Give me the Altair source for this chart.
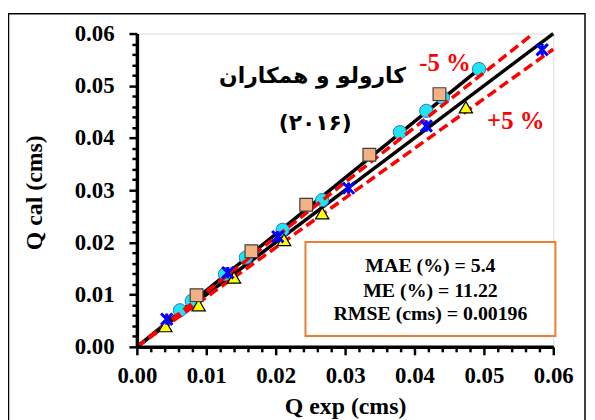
import altair as alt
import pandas as pd

# ---------------- data ----------------
cyan_x = [0.0062, 0.0079, 0.0127, 0.0157, 0.0210, 0.0267, 0.0379, 0.0417, 0.0441, 0.0493]
cyan_y = [0.0070, 0.0088, 0.0139, 0.0171, 0.0224, 0.0281, 0.0411, 0.0452, 0.0477, 0.0532]

square_x = [0.0086, 0.0165, 0.0244, 0.0335, 0.0436]
square_y = [0.0099, 0.0183, 0.0272, 0.0368, 0.0484]

tri_x = [0.0041, 0.0089, 0.0140, 0.0212, 0.0267, 0.0474]
tri_y = [0.0040, 0.0080, 0.0133, 0.0205, 0.0256, 0.0459]

star_x = [0.0043, 0.0131, 0.0203, 0.0305, 0.0417, 0.0584]
star_y = [0.0053, 0.0142, 0.0211, 0.0304, 0.0423, 0.0569]

# reference lines (end points)
black_line_name = ["1:1", "1:1", "fit", "fit"]
black_line_x = [0.0, 0.06, 0.0, 0.0493]
black_line_y = [0.0, 0.06, 0.0, 0.0532]

red_line_name = ["minus5", "minus5", "plus5", "plus5"]
red_line_x = [0.0, 0.05714, 0.0, 0.06]
red_line_y = [0.0, 0.06, 0.0, 0.057]

# axis ticks
tick_values = [0.000, 0.002, 0.004, 0.006, 0.008, 0.010, 0.012, 0.014, 0.016, 0.018,
               0.020, 0.022, 0.024, 0.026, 0.028, 0.030, 0.032, 0.034, 0.036, 0.038,
               0.040, 0.042, 0.044, 0.046, 0.048, 0.050, 0.052, 0.054, 0.056, 0.058, 0.060]

# annotations
title_text = ["کارولو و همکاران", "(۲۰۱۶)"]
title_x = [0.0253, 0.0257]
title_y = [0.0518, 0.0429]

pct_text = ["-5 %", "+5 %"]
pct_x = [0.0444, 0.0546]
pct_y = [0.0543, 0.0433]

stats_text = ["MAE (%) = 5.4", "ME (%) = 11.22", "RMSE (cms) = 0.00196"]
stats_x = [0.0423, 0.0423, 0.0423]
stats_y = [0.01538, 0.01063, 0.00627]

box_x = [0.02429]
box_x2 = [0.0603]
box_y = [0.00209]
box_y2 = [0.0201]

# ---------------- chart ----------------
SERIF = "Liberation Serif"
major_test = "abs(datum.value*100 - round(datum.value*100)) < 0.000001"
tick_size = {"condition": {"test": major_test, "value": 8}, "value": 5}
label_expr = f"{major_test} ? format(datum.value, '.2f') : ''"

common_axis = dict(
    values=tick_values,
    labelExpr=label_expr,
    labelFont=SERIF,
    labelFontWeight="bold",
    labelFontSize=23,
    labelColor="black",
    labelFlush=False,
    labelOverlap=False,
    tickSize=tick_size,
    tickWidth=2.5,
    tickColor="black",
    domainWidth=3.5,
    domainColor="black",
    grid=False,
    titleFont=SERIF,
    titleFontWeight="bold",
    titleFontSize=24,
    titleColor="black",
    zindex=1,
)

xaxis = alt.Axis(title="Q exp (cms)", labelPadding=10, titleY=60,
                 titleBaseline="middle", **common_axis)
yaxis = alt.Axis(title="Q cal (cms)", labelPadding=15, titleX=-103, titleY=160,
                 titleBaseline="middle", **common_axis)

xs = alt.Scale(domain=[0, 0.06], nice=False)
ys = alt.Scale(domain=[0, 0.06], nice=False)

X = alt.X("x:Q", scale=xs, axis=xaxis)
Y = alt.Y("y:Q", scale=ys, axis=yaxis)

frame = alt.Chart(alt.Data(values=[{}])).mark_rect(
    fillOpacity=0, stroke="black", strokeWidth=1.5
).encode(x=alt.value(-129.5), x2=alt.value(452), y=alt.value(-20), y2=alt.value(394))

box_df = pd.DataFrame({"x": box_x, "x2": box_x2, "y": box_y, "y2": box_y2})
box = alt.Chart(box_df).mark_rect(fill="white", stroke="#ED7D31", strokeWidth=2).encode(
    x=X, x2="x2:Q", y=Y, y2="y2:Q")

black_df = pd.DataFrame({"x": black_line_x, "y": black_line_y, "line": black_line_name})
black = alt.Chart(black_df).mark_line(color="black", strokeWidth=3.5).encode(
    x=X, y=Y, detail="line:N")

red_df = pd.DataFrame({"x": red_line_x, "y": red_line_y, "line": red_line_name})
red = alt.Chart(red_df).mark_line(color="#FF0000", strokeWidth=3.5, strokeDash=[10, 5]).encode(
    x=X, y=Y, detail="line:N")

cyan = alt.Chart(pd.DataFrame({"x": cyan_x, "y": cyan_y})).mark_point(
    shape="circle", filled=True, fill="#1FE5F2", stroke="#3A6FC0", strokeWidth=1,
    size=180, opacity=1).encode(x=X, y=Y)

tri = alt.Chart(pd.DataFrame({"x": tri_x, "y": tri_y})).mark_point(
    shape="triangle-up", filled=True, fill="#FFFF00", stroke="black", strokeWidth=1.2,
    size=180, opacity=1).encode(x=X, y=Y)

sq = alt.Chart(pd.DataFrame({"x": square_x, "y": square_y})).mark_point(
    shape="square", filled=True, fill="#F4B183", stroke="#404040", strokeWidth=1.2,
    size=165, opacity=1).encode(x=X, y=Y)

star = alt.Chart(pd.DataFrame({"x": star_x, "y": star_y})).mark_point(
    shape="M-1,-1L1,1M-1,1L1,-1M0,-1L0,1", filled=False, stroke="#0000FF", strokeWidth=3,
    size=130, opacity=1).encode(x=X, y=Y)

titles = alt.Chart(pd.DataFrame({"x": title_x, "y": title_y, "t": title_text})).mark_text(
    font="DejaVu Sans", fontWeight="bold", fontSize=22, color="black",
    align="center", baseline="middle").encode(x=X, y=Y, text="t:N")

pct = alt.Chart(pd.DataFrame({"x": pct_x, "y": pct_y, "t": pct_text})).mark_text(
    font=SERIF, fontWeight="bold", fontSize=25, color="#FF0000",
    align="center", baseline="middle").encode(x=X, y=Y, text="t:N")

stats = alt.Chart(pd.DataFrame({"x": stats_x, "y": stats_y, "t": stats_text})).mark_text(
    font=SERIF, fontWeight="bold", fontSize=20, color="black",
    align="center", baseline="middle").encode(x=X, y=Y, text="t:N")

chart = alt.layer(frame, box, black, cyan, red, tri, sq, star, titles, pct, stats).properties(
    width=420, height=316,
    padding={"left": 130, "top": 24, "right": 34, "bottom": 72},
    autosize=alt.AutoSizeParams(type="none"),
).configure_view(strokeWidth=0).configure(background="white")

chart.save("out.html", embed_options={"renderer": "svg", "actions": False})
